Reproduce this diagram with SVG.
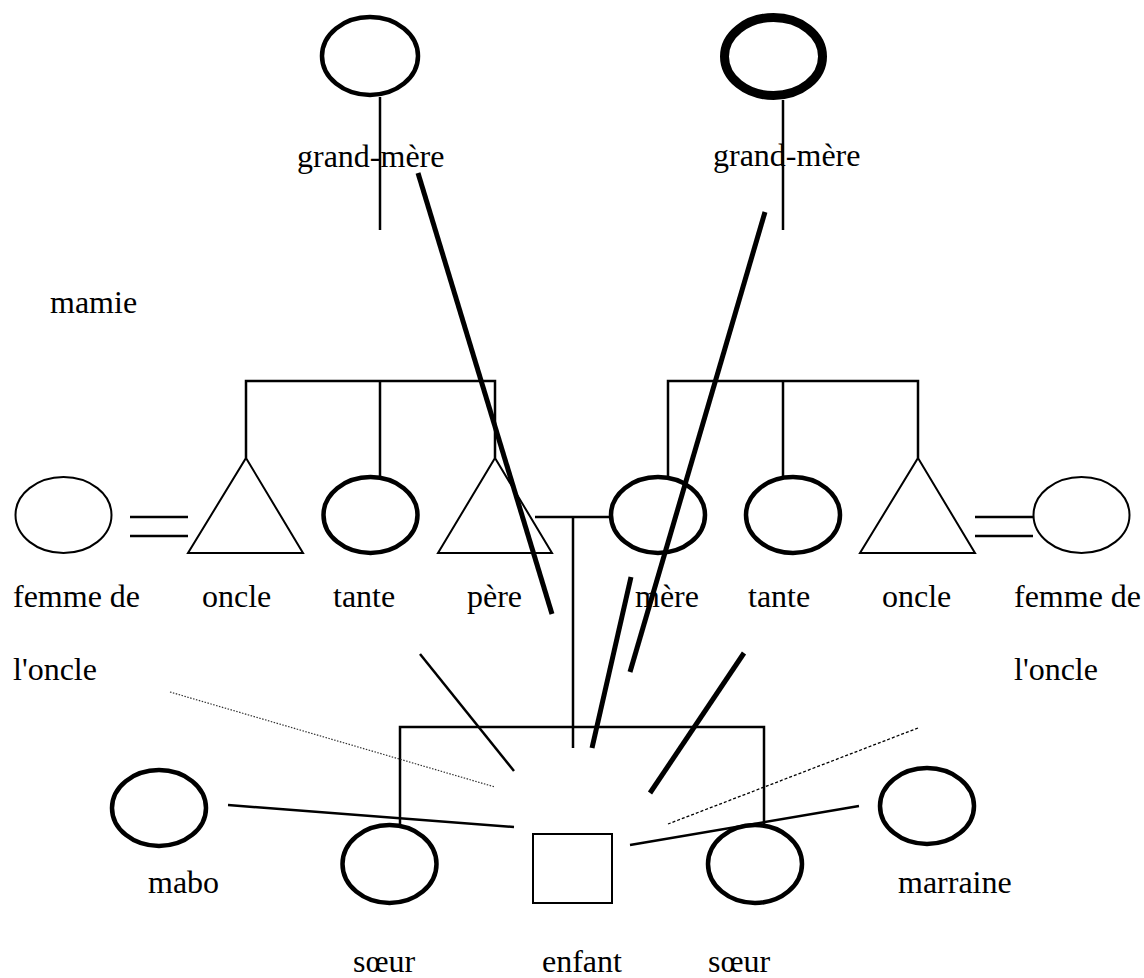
<svg xmlns="http://www.w3.org/2000/svg" width="1144" height="978" viewBox="0 0 1144 978">
<style>
text{font-family:"Liberation Serif","Times New Roman",serif;font-size:32px;fill:#000}
.th{fill:none;stroke:#000;stroke-width:4.5}
.tn{fill:none;stroke:#000;stroke-width:2}
.ln{fill:none;stroke:#000;stroke-width:2.5}
.bold{fill:none;stroke:#000;stroke-width:5}
</style>
<rect width="1144" height="978" fill="#fff"/>
<g id="grandmere-left"><ellipse class="th" cx="370" cy="56" rx="48" ry="39"/><text x="297" y="167">grand-mère</text></g>
<g id="grandmere-right"><ellipse cx="773.5" cy="56.5" rx="49" ry="39" fill="none" stroke="#000" stroke-width="9"/><text x="713" y="166">grand-mère</text></g>
<g id="mamie"><text x="50" y="313">mamie</text></g>
<g id="femme-left"><ellipse class="tn" cx="63.5" cy="515" rx="48" ry="38"/><text x="13" y="607">femme de</text><text x="13" y="680">l'oncle</text></g>
<g id="oncle-left"><polygon class="tn" points="246,458 303,553 188,553"/><text x="202" y="607">oncle</text></g>
<g id="tante-left"><ellipse class="th" cx="370.5" cy="515" rx="47" ry="38"/><text x="333" y="607">tante</text></g>
<g id="pere"><polygon class="tn" points="495,458 552,553 438,553"/><text x="467" y="607">père</text></g>
<g id="mere"><ellipse class="th" cx="658" cy="515" rx="47" ry="38"/><text x="635" y="607">mère</text></g>
<g id="tante-right"><ellipse class="th" cx="793" cy="515" rx="47" ry="38"/><text x="748" y="607">tante</text></g>
<g id="oncle-right"><polygon class="tn" points="918,458 975,553 860,553"/><text x="882" y="607">oncle</text></g>
<g id="femme-right"><ellipse class="tn" cx="1081.5" cy="515" rx="48" ry="38"/><text x="1014" y="607">femme de</text><text x="1014" y="680">l'oncle</text></g>
<g id="mabo"><ellipse class="th" cx="159" cy="808" rx="47" ry="38"/><text x="148" y="893">mabo</text></g>
<g id="soeur-left"><ellipse class="th" cx="389.5" cy="864" rx="47" ry="39"/><text x="353" y="972">sœur</text></g>
<g id="enfant"><rect x="533" y="834" width="79" height="69" fill="none" stroke="#000" stroke-width="2"/><text x="542" y="972">enfant</text></g>
<g id="soeur-right"><ellipse class="th" cx="755" cy="864" rx="47" ry="39"/><text x="708" y="972">sœur</text></g>
<g id="marraine"><ellipse class="th" cx="927" cy="806" rx="47" ry="38"/><text x="898" y="893">marraine</text></g>
<g id="connectors">
<line class="ln" x1="380" y1="97" x2="380" y2="230"/>
<line class="ln" x1="783" y1="100" x2="783" y2="230"/>
<polyline class="ln" points="246,458 246,381 495,381 495,458"/>
<line class="ln" x1="380" y1="381" x2="380" y2="476"/>
<polyline class="ln" points="668,476 668,381 918,381 918,458"/>
<line class="ln" x1="783" y1="381" x2="783" y2="476"/>
<line class="ln" x1="130" y1="517" x2="188" y2="517"/>
<line class="ln" x1="130" y1="536" x2="188" y2="536"/>
<line class="ln" x1="975" y1="517" x2="1033" y2="517"/>
<line class="ln" x1="975" y1="536" x2="1033" y2="536"/>
<line class="ln" x1="535" y1="517" x2="610" y2="517"/>
<line class="ln" x1="573" y1="517" x2="573" y2="748"/>
<polyline class="ln" points="400,825 400,727 764,727 764,825"/>
<line class="ln" x1="228" y1="805" x2="514" y2="827"/>
<line class="ln" x1="630" y1="845" x2="859" y2="806"/>
<line x1="170" y1="692" x2="495" y2="787" stroke="#333" stroke-width="1.2" stroke-dasharray="1.5 1.5"/>
<line x1="918" y1="728" x2="668" y2="824" stroke="#000" stroke-width="1.3" stroke-dasharray="3 2"/>
<line class="ln" x1="420" y1="654" x2="514" y2="771" stroke-width="3"/>
<line class="bold" x1="744" y1="653" x2="650" y2="793"/>
<line class="bold" x1="418" y1="173" x2="552" y2="614"/>
<line class="bold" x1="765" y1="212" x2="630" y2="672"/>
<line class="bold" x1="631" y1="577" x2="592" y2="748"/>
</g>
</svg>
